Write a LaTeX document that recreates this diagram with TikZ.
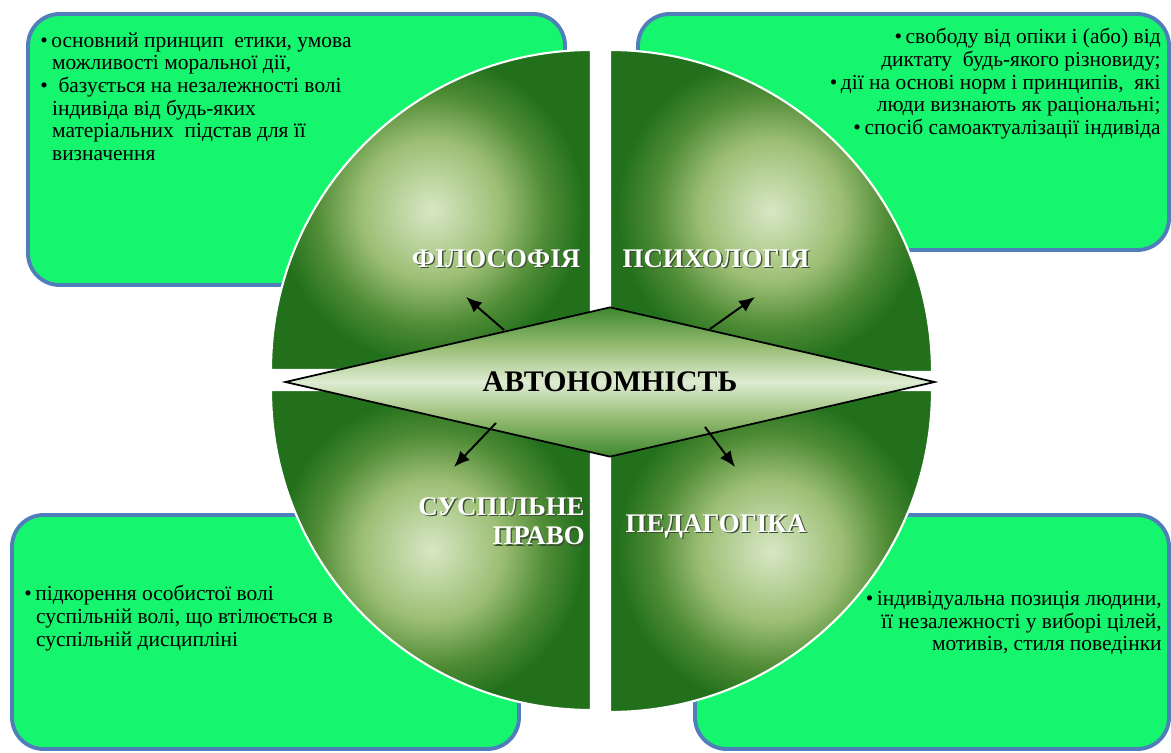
\documentclass[tikz,border=0pt]{standalone}
\usepackage{fontspec}
\setmainfont{Liberation Serif}
\usetikzlibrary{arrows.meta, positioning, shapes.geometric}

\definecolor{boxfill}{RGB}{22,245,110}
\definecolor{boxline}{RGB}{80,126,186}
\definecolor{qdark}{RGB}{34,112,28}
\definecolor{qdeep}{RGB}{80,140,54}
\definecolor{qmid}{RGB}{156,190,116}
\definecolor{qlight}{RGB}{216,231,196}
\definecolor{hubdark}{RGB}{62,136,46}
\definecolor{hubmid}{RGB}{150,188,115}
\definecolor{hublight}{RGB}{222,236,210}
\definecolor{labshade}{RGB}{60,80,50}

\pgfdeclareradialshading{quadshade}{\pgfpoint{0bp}{0bp}}{%
  color(0bp)=(qlight); color(4.5bp)=(qlight!60!qmid); color(11bp)=(qmid);
  color(18bp)=(qdeep); color(24bp)=(qdark); color(50bp)=(qdark)}
\pgfdeclareverticalshading{hubshade}{100bp}{%
  color(0bp)=(hubdark); color(25bp)=(hubdark); color(38bp)=(hubmid);
  color(50bp)=(hublight); color(62bp)=(hubmid); color(75bp)=(hubdark); color(100bp)=(hubdark)}

\newcommand{\shtext}[1]{\makebox[0pt][l]{\hspace{0.8pt}\raisebox{-0.8pt}{\textcolor{labshade}{#1}}}#1}

\begin{document}
\begin{tikzpicture}[x=0.02cm, y=0.02cm,
        infobox/.style={draw=boxline, line width=2.2pt, fill=boxfill, rounded corners=18pt},
        quadrant/.style={draw=white, line width=1.2pt, shade, shading=quadshade},
        hub/.style={diamond, draw=black, line width=1pt, aspect=4.3, inner sep=0pt,
          minimum width=13cm, minimum height=3cm, shade, shading=hubshade,
          font=\bfseries\fontsize{17}{19}\selectfont},
        note/.style={font=\fontsize{12.2}{12.9}\selectfont, inner sep=0pt},
        field/.style={text=white, inner sep=0pt, font=\bfseries\fontsize{15.3}{17}\selectfont},
        link/.style={line width=1.1pt, -{Latex[length=9pt, width=7.5pt]}}
      ]
        \useasboundingbox (0,0) rectangle (1171,-753);

        % Info boxes
        \path[infobox] (28,-14) rectangle (565,-285);
        \path[infobox] (638,-14) rectangle (1169,-250);
        \path[infobox] (12,-515) rectangle (519,-749);
        \path[infobox] (695,-515) rectangle (1169,-749);

        % Quadrants of the circle
        \path[quadrant] (591,-370) -- (271,-370) arc[start angle=180, end angle=90, radius=320] -- cycle;
        \path[quadrant] (610,-370) -- (610,-50) arc[start angle=90, end angle=0, radius=322] -- cycle;
        \path[quadrant] (591,-390) -- (271,-390) arc[start angle=180, end angle=270, radius=320] -- cycle;
        \path[quadrant] (610,-390) -- (932,-390) arc[start angle=0, end angle=-90, radius=322] -- cycle;

        % Centre
        \node[hub] (autonomy) at (610,-382) {АВТОНОМНІСТЬ};

        % Field names
        \node[field] (phil) at (496,-259) {\shtext{ФІЛОСОФІЯ}};
        \node[field] (psych) at (716,-259) {\shtext{ПСИХОЛОГІЯ}};
        \node[field, align=right, anchor=east] (law) at (585,-522) {\shtext{СУСПІЛЬНЕ}\\\shtext{ПРАВО}};
        \node[field] (ped) at (716,-527) {\shtext{ПЕДАГОГІКА}};

        % Arrows out of the centre
        \coordinate (from-phil) at (504,-330);  \coordinate (to-phil) at (466,-297);
        \coordinate (from-psych) at (710,-329); \coordinate (to-psych) at (755,-297);
        \coordinate (from-law) at (496,-423);   \coordinate (to-law) at (454,-467);
        \coordinate (from-ped) at (705,-427);   \coordinate (to-ped) at (735,-467);
        \draw[link] (from-phil) -- (to-phil);
        \draw[link] (from-psych) -- (to-psych);
        \draw[link] (from-law) -- (to-law);
        \draw[link] (from-ped) -- (to-ped);

        % Box texts
        \node[note, align=left, anchor=north west] (phil-note) at (40,-32)
          {•\,основний принцип\ \ етики, умова\\
           \hspace*{0.55em}можливості моральної дії,\\
           •\ \ базується на незалежності волі\\
           \hspace*{0.55em}індивіда від будь-яких\\
           \hspace*{0.55em}матеріальних\ \ підстав для її\\
           \hspace*{0.55em}визначення};
        \node[note, align=right, anchor=north east] (psych-note) at (1161,-28)
          {•\,свободу від опіки і (або) від\\
           диктату\ \ будь-якого різновиду;\\
           •\,дії на основі норм і принципів,\ \ які\\
           люди визнають як раціональні;\\
           •\,спосіб самоактуалізації індивіда};
        \node[note, align=left, anchor=north west] (law-note) at (24,-585)
          {•\,підкорення особистої волі\\
           \hspace*{0.55em}суспільній волі, що втілюється в\\
           \hspace*{0.55em}суспільній дисципліні};
        \node[note, align=right, anchor=north east] (ped-note) at (1162,-591)
          {•\,індивідуальна позиція людини,\\
           її незалежності у виборі цілей,\\
           мотивів, стиля поведінки};
      \end{tikzpicture}
\end{document}
